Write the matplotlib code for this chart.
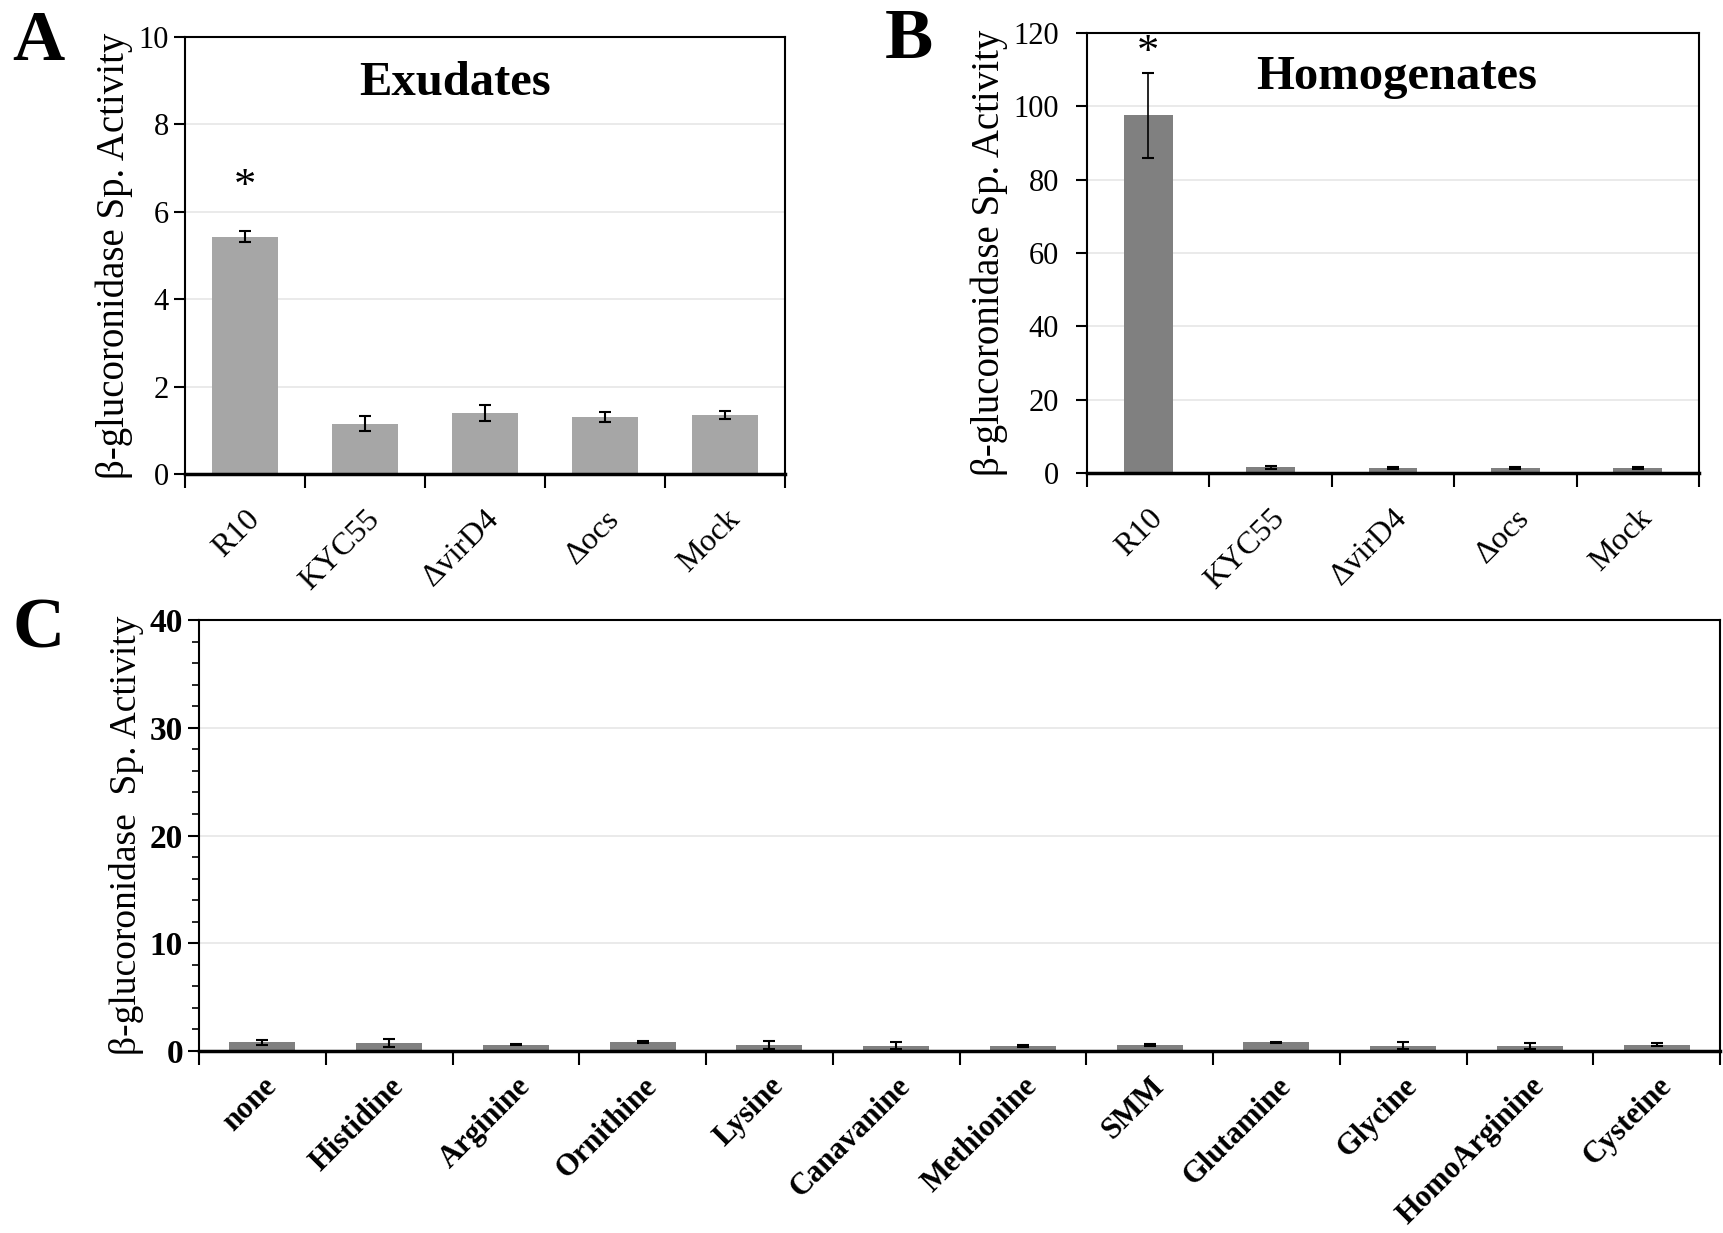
import numpy as np
import matplotlib.pyplot as plt
from matplotlib.ticker import MultipleLocator

plt.rcParams["font.family"] = ["Liberation Serif", "DejaVu Serif"]

strains = ["R10", "KYC55", "\u0394virD4", "\u0394ocs", "Mock"]

exu_mean = [5.43, 1.15, 1.39, 1.30, 1.35]
exu_err = [0.13, 0.17, 0.18, 0.12, 0.10]

hom_mean = [97.5, 1.5, 1.4, 1.4, 1.3]
hom_err = [11.5, 0.3, 0.2, 0.2, 0.2]

compounds = ["none", "Histidine", "Arginine", "Ornithine", "Lysine", "Canavanine",
             "Methionine", "SMM", "Glutamine", "Glycine", "HomoArginine", "Cysteine"]
cmp_mean = [0.8, 0.75, 0.6, 0.85, 0.55, 0.5, 0.5, 0.55, 0.8, 0.5, 0.45, 0.6]
cmp_err = [0.2, 0.35, 0.08, 0.1, 0.35, 0.3, 0.1, 0.1, 0.05, 0.35, 0.25, 0.1]

W, H = 1723, 1233
fig = plt.figure(figsize=(W / 100, H / 100), dpi=100)


def box(l, t, r, b):
    return [l / W, 1 - b / H, (r - l) / W, (b - t) / H]


def style(ax, n, ymax, step, ysize, bold=False, ypad=3.5, xpad=14):
    x = np.arange(n)
    ax.set_xlim(-0.5, n - 0.5)
    ax.set_ylim(0, ymax)
    ax.set_xticks(np.arange(n + 1) - 0.5)
    ax.set_xticklabels([])
    ax.set_xticks(x, minor=True)
    ax.tick_params(axis="x", which="major", direction="out", length=10, width=1.5)
    ax.tick_params(axis="x", which="minor", length=0, pad=xpad)
    ax.yaxis.set_major_locator(MultipleLocator(step))
    ax.tick_params(axis="y", direction="out", length=8, width=1.5, labelsize=ysize, pad=ypad)
    for s in ax.spines.values():
        s.set_linewidth(1.5)
    ax.spines["bottom"].set_linewidth(2.5)
    ax.grid(axis="y", color="#e6e6e6", linewidth=1.2)
    ax.set_axisbelow(True)
    if bold:
        for lab in ax.get_yticklabels():
            lab.set_fontweight("bold")


# Panel A
axA = fig.add_axes(box(185, 37, 785, 474))
axA.bar(np.arange(5), exu_mean, width=0.55, color="#a6a6a6", yerr=exu_err,
        capsize=4, error_kw=dict(elinewidth=1.5, capthick=1.5))
style(axA, 5, 10, 2, 22, xpad=22)
axA.set_xticklabels(strains, minor=True, rotation=45, ha="right", rotation_mode="anchor", fontsize=23)
axA.set_ylabel("\u03b2-glucoronidase Sp. Activity", fontsize=28)
axA.text(0.45, 0.894, "Exudates", transform=axA.transAxes, ha="center", va="center",
         fontsize=35, fontweight="bold")
axA.text(0, exu_mean[0] + exu_err[0] + 1.0, "*", ha="center", va="center", fontsize=32)
fig.text(12 / W, 1 - 42 / H, "A", fontsize=52, fontweight="bold", ha="left", va="center")

# Panel B
axB = fig.add_axes(box(1087, 33, 1699, 473))
axB.bar(np.arange(5), hom_mean, width=0.4, color="#808080", yerr=hom_err,
        capsize=4, error_kw=dict(elinewidth=1.2, capthick=1.5))
style(axB, 5, 120, 20, 22, ypad=12, xpad=22)
axB.set_xticklabels(strains, minor=True, rotation=45, ha="right", rotation_mode="anchor", fontsize=23)
axB.set_ylabel("\u03b2-glucoronidase Sp. Activity", fontsize=28)
axB.text(0.506, 0.9, "Homogenates", transform=axB.transAxes, ha="center", va="center",
         fontsize=35, fontweight="bold")
axB.text(0, hom_mean[0] + hom_err[0] + 5.5, "*", ha="center", va="center", fontsize=32)
fig.text(885 / W, 1 - 40 / H, "B", fontsize=52, fontweight="bold", ha="left", va="center")

# Panel C
axC = fig.add_axes(box(199, 620, 1720, 1051))
axC.bar(np.arange(12), cmp_mean, width=0.52, color="#808080", yerr=cmp_err,
        capsize=4, error_kw=dict(elinewidth=1.5, capthick=1.5))
style(axC, 12, 40, 10, 24, bold=True, xpad=15)
axC.yaxis.set_minor_locator(MultipleLocator(2))
axC.tick_params(axis="y", which="minor", direction="out", length=5, width=1.2)
axC.set_xticklabels(compounds, minor=True, rotation=45, ha="right", rotation_mode="anchor",
                    fontsize=22, fontweight="bold")
axC.set_ylabel("\u03b2-glucoronidase  Sp. Activity", fontsize=27)
fig.text(12 / W, 1 - 630 / H, "C", fontsize=52, fontweight="bold", ha="left", va="center")

fig.savefig("out.png", dpi=100)
plt.close(fig)
